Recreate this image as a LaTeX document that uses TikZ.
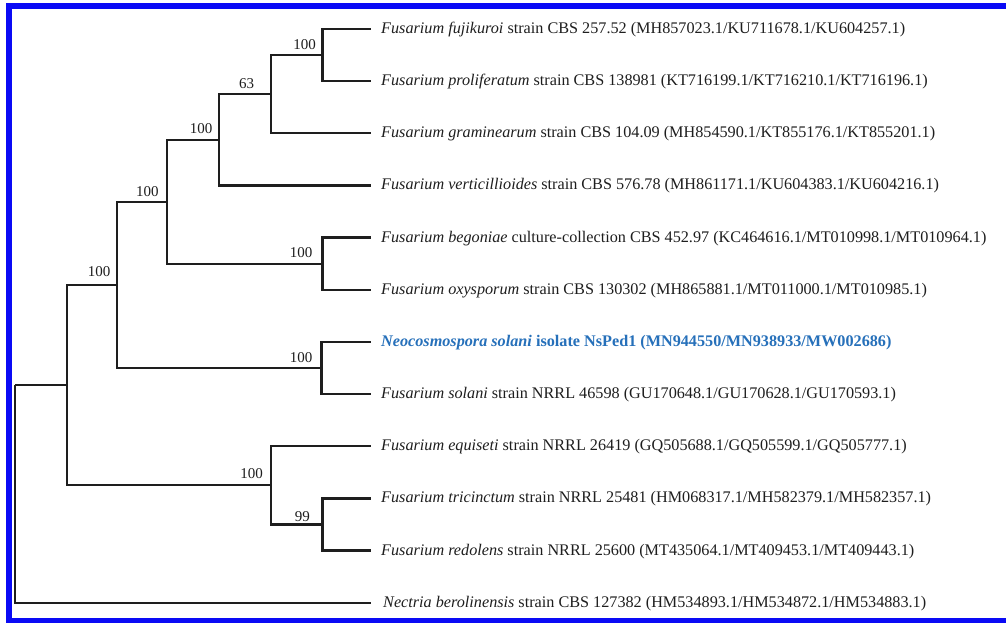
\documentclass[tikz,border=0pt]{standalone}
\usepackage{fontspec}
\setmainfont{Liberation Serif}
\definecolor{frameblue}{RGB}{10,10,245}
\definecolor{isoblue}{RGB}{38,112,186}
\definecolor{ink}{RGB}{30,30,30}
\begin{document}
\begin{tikzpicture}[x=1pt,y=-1pt,
  br/.style={line width=2.3pt, draw=ink},
  leaf/.style={anchor=base west, inner sep=0pt, font=\fontsize{16.2}{19}\selectfont, text=ink},
  bs/.style={anchor=center, inner sep=0pt, font=\fontsize{15}{17}\selectfont, text=ink}]
\useasboundingbox (0,0) rectangle (1006,623);
\fill[white] (0,0) rectangle (1006,623);
\draw[frameblue, line width=6pt] (1006,6) -- (8.5,6) -- (8.5,621) -- (1006,621);
% leaf ends
\coordinate (l1) at (371,29);
\coordinate (l2) at (371,81.15);
\coordinate (l3) at (371,133.3);
\coordinate (l4) at (371,185.45);
\coordinate (l5) at (371,237.6);
\coordinate (l6) at (371,289.75);
\coordinate (l7) at (371,341.9);
\coordinate (l8) at (371,394.05);
\coordinate (l9) at (371,446.2);
\coordinate (l10) at (371,498.35);
\coordinate (l11) at (371,550.5);
\coordinate (l12) at (371,602.65);
% internal nodes
\coordinate (A) at (322.5,55.1);
\coordinate (B) at (270.7,94.2);
\coordinate (C) at (219.3,139.8);
\coordinate (D) at (322.5,263.7);
\coordinate (E) at (166.7,201.7);
\coordinate (F) at (321.5,368);
\coordinate (G) at (116.7,284.9);
\coordinate (H) at (322.5,524.4);
\coordinate (I) at (270.7,485.3);
\coordinate (J) at (66.7,385.1);
\coordinate (R) at (15,385.1);
% branches
\draw[br] (A) |- (l1);
\draw[br] (A) |- (l2);
\draw[br] (B) |- (A);
\draw[br] (B) |- (l3);
\draw[br] (C) |- (B);
\draw[br] (C) |- (l4);
\draw[br] (D) |- (l5);
\draw[br] (D) |- (l6);
\draw[br] (E) |- (C);
\draw[br] (E) |- (D);
\draw[br] (F) |- (l7);
\draw[br] (F) |- (l8);
\draw[br] (G) |- (E);
\draw[br] (G) |- (F);
\draw[br] (H) |- (l10);
\draw[br] (H) |- (l11);
\draw[br] (I) |- (l9);
\draw[br] (I) |- (H);
\draw[br] (J) |- (G);
\draw[br] (J) |- (I);
\draw[br] (R) -- (J);
\draw[br] (R) |- (l12);
% bootstrap values
\node[bs] (bA) at (304.7,45) {100};
\node[bs] (bB) at (246.7,84) {63};
\node[bs] (bC) at (201,128.8) {100};
\node[bs] (bE) at (147.3,191.2) {100};
\node[bs] (bD) at (301,252.2) {100};
\node[bs] (bG) at (99,271.7) {100};
\node[bs] (bF) at (301,357.2) {100};
\node[bs] (bI) at (251.7,474) {100};
\node[bs] (bH) at (302.3,516.7) {99};
% taxa
\node[leaf] (t1) at ([shift={(10,4.5)}]l1) {\textit{Fusarium fujikuroi} strain CBS 257.52 (MH857023.1/KU711678.1/KU604257.1)};
\node[leaf] (t2) at ([shift={(10,4.5)}]l2) {\textit{Fusarium proliferatum} strain CBS 138981 (KT716199.1/KT716210.1/KT716196.1)};
\node[leaf] (t3) at ([shift={(10,4.5)}]l3) {\textit{Fusarium graminearum} strain CBS 104.09 (MH854590.1/KT855176.1/KT855201.1)};
\node[leaf] (t4) at ([shift={(10,4.5)}]l4) {\textit{Fusarium verticillioides} strain CBS 576.78 (MH861171.1/KU604383.1/KU604216.1)};
\node[leaf] (t5) at ([shift={(10,4.5)}]l5) {\textit{Fusarium begoniae} culture-collection CBS 452.97 (KC464616.1/MT010998.1/MT010964.1)};
\node[leaf] (t6) at ([shift={(10,4.5)}]l6) {\textit{Fusarium oxysporum} strain CBS 130302 (MH865881.1/MT011000.1/MT010985.1)};
\node[leaf, text=isoblue, font=\fontsize{16.2}{19}\selectfont\bfseries] (t7) at ([shift={(10,4.5)}]l7) {\textit{Neocosmospora solani} isolate NsPed1 (MN944550/MN938933/MW002686)};
\node[leaf] (t8) at ([shift={(10,4.5)}]l8) {\textit{Fusarium solani} strain NRRL 46598 (GU170648.1/GU170628.1/GU170593.1)};
\node[leaf] (t9) at ([shift={(10,4.5)}]l9) {\textit{Fusarium equiseti} strain NRRL 26419 (GQ505688.1/GQ505599.1/GQ505777.1)};
\node[leaf] (t10) at ([shift={(10,4.5)}]l10) {\textit{Fusarium tricinctum} strain NRRL 25481 (HM068317.1/MH582379.1/MH582357.1)};
\node[leaf] (t11) at ([shift={(10,4.5)}]l11) {\textit{Fusarium redolens} strain NRRL 25600 (MT435064.1/MT409453.1/MT409443.1)};
\node[leaf] (t12) at ([shift={(12,4.5)}]l12) {\textit{Nectria berolinensis} strain CBS 127382 (HM534893.1/HM534872.1/HM534883.1)};
\end{tikzpicture}
\end{document}
